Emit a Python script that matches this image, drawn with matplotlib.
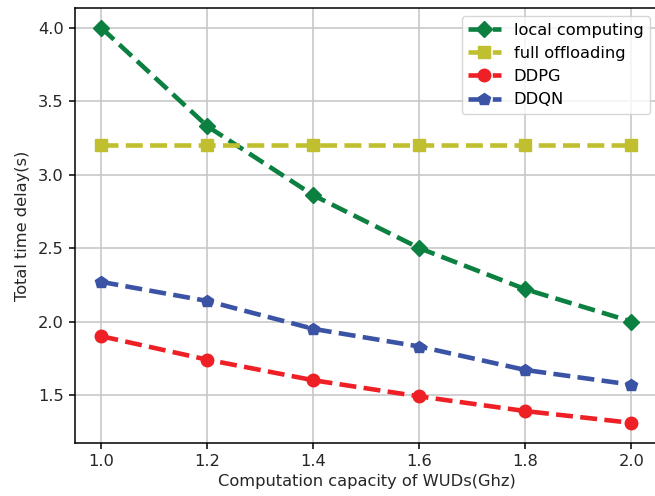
import matplotlib
matplotlib.use('Agg')
import matplotlib.pyplot as plt

# computation capacity (GHz)
capacity = [1.0, 1.2, 1.4, 1.6, 1.8, 2.0]

local_computing = [4.0, 3.33, 2.86, 2.5, 2.22, 2.0]
full_offloading = [3.2, 3.2, 3.2, 3.2, 3.2, 3.2]
ddpg = [1.90, 1.74, 1.60, 1.49, 1.39, 1.31]
ddqn = [2.27, 2.14, 1.95, 1.83, 1.67, 1.57]

fig = plt.figure(figsize=(6.55, 4.96), dpi=100)
ax = fig.add_axes([0.1145, 0.1077, 0.890, 0.8756])

ax.plot(capacity, local_computing, '--D', color='#0b8040', lw=3.3, ms=8, label='local computing')
ax.plot(capacity, full_offloading, '--s', color='#bfbf2f', lw=3.3, ms=8, label='full offloading')
ax.plot(capacity, ddpg, '--o', color='#ee2025', lw=3.3, ms=9, label='DDPG')
ax.plot(capacity, ddqn, '--p', color='#3a53a4', lw=3.3, ms=9, label='DDQN')

ax.grid(True, color='#c8c8c8', lw=1.2)
ax.set_axisbelow(True)
ax.tick_params(labelcolor='#262626', labelsize=11.7, length=4.5, width=1.1)
for s in ax.spines.values():
    s.set_linewidth(1.1)
ax.set_xlabel('Computation capacity of WUDs(Ghz)', color='#262626', fontsize=11.7)
ax.set_ylabel('Total time delay(s)', color='#262626', fontsize=11.7, labelpad=6)
ax.legend(loc='upper right', fontsize=11.7)

fig.savefig('out.png', dpi=100)
